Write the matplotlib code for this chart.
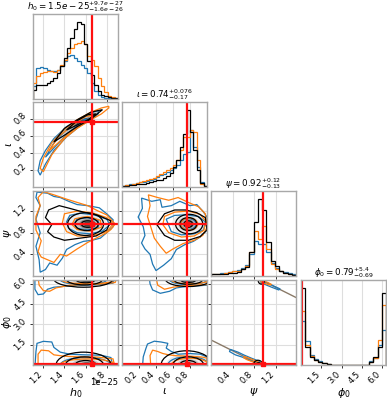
#!/usr/bin/env python3
import matplotlib

matplotlib.use("Agg")
import matplotlib.pyplot as plt
from matplotlib.patches import Ellipse, Polygon
import numpy as np

DPI = 100
FIG_W, FIG_H = 387, 400
BLUE = "#1f77b4"
ORANGE = "#ff7f0e"
BLACK = "#000000"
TRUTH_COLOR = "#ff1010"
GRID_COLOR = "#dedede"
SPINE_COLOR = "#a8a8a8"
FILL_SHADES = ["#ececec", "#c4c4c4", "#8a8a8a", "#454545"]

# axes layout in pixels
COL_LEFT = [33, 122, 211, 301]
ROW_TOP = [14, 102, 191, 280]
PANEL_W, PANEL_H = 85, 85

LABELS = [r"$h_0$", r"$\iota$", r"$\psi$", r"$\phi_0$"]
TITLES = [
    r"$h_0 = 1.5e-25^{+9.7e-27}_{-1.6e-26}$",
    r"$\iota = 0.74^{+0.076}_{-0.17}$",
    r"$\psi = 0.92^{+0.12}_{-0.13}$",
    r"$\phi_0 = 0.79^{+5.4}_{-0.69}$",
]
H0_OFFSET_TEXT = "1e\u221225"
UNITS = [1e-25, 1.0, 1.0, 1.0]
RANGES = [(1.102, 1.907), (0.0, 1.0), (0.0, 1.5708), (0.0, 6.2832)]
TICKS = [[1.2, 1.4, 1.6, 1.8], [0.2, 0.4, 0.6, 0.8], [0.4, 0.8, 1.2], [1.5, 3.0, 4.5, 6.0]]
TRUTHS = [1.663, 0.77, 0.955, 0.04]

# 1D marginal histograms (bin counts, arbitrary units)
H0_HIST_BLUE = [38, 93, 95, 93, 88, 83, 83, 88, 98, 113, 128, 133, 123, 113, 103, 93, 78, 48, 23, 11, 6, 3, 2, 1, 1]
H0_HIST_ORANGE = [48, 68, 78, 81, 85, 83, 81, 88, 103, 118, 138, 153, 163, 168, 173, 165, 128, 118, 98, 63, 38, 21, 10, 5, 3]
H0_HIST_BLACK = [28, 43, 43, 43, 48, 53, 63, 78, 98, 123, 153, 183, 208, 231, 223, 163, 113, 73, 43, 23, 13, 8, 5, 3, 2]

IOTA_HIST_BLUE = [3, 5, 8, 10, 12, 14, 16, 18, 22, 25, 30, 35, 40, 45, 52, 58, 65, 80, 100, 105, 170, 120, 60, 15, 3]
IOTA_HIST_ORANGE = [3, 5, 7, 10, 13, 16, 18, 20, 24, 28, 32, 38, 44, 50, 56, 65, 80, 110, 150, 150, 170, 165, 80, 10, 3]
IOTA_HIST_BLACK = [2, 3, 5, 7, 8, 10, 10, 12, 14, 17, 20, 22, 26, 32, 42, 60, 80, 120, 160, 232, 165, 110, 50, 12, 3]

PSI_HIST_BLUE = [6, 7, 8, 10, 12, 15, 18, 25, 32, 65, 105, 95, 95, 70, 40, 25, 15, 12, 8, 5]
PSI_HIST_ORANGE = [5, 6, 7, 9, 11, 14, 16, 22, 30, 70, 135, 110, 150, 80, 35, 22, 15, 10, 6, 4]
PSI_HIST_BLACK = [5, 5, 6, 7, 8, 10, 12, 20, 28, 70, 160, 230, 195, 100, 45, 30, 15, 10, 5, 3]

PHI0_HIST_BLUE = [132, 70, 30, 18, 12, 7, 3, 1, 0, 0, 0, 0, 0, 0, 0, 1, 12, 22, 60, 105]
PHI0_HIST_ORANGE = [162, 60, 28, 16, 10, 6, 3, 1, 0, 0, 0, 0, 0, 0, 0, 1, 10, 20, 75, 180]
PHI0_HIST_BLACK = [230, 55, 25, 15, 10, 5, 3, 1, 0, 0, 0, 0, 0, 0, 0, 1, 10, 25, 55, 215]

HISTS = {
    0: (H0_HIST_BLUE, H0_HIST_ORANGE, H0_HIST_BLACK),
    1: (IOTA_HIST_BLUE, IOTA_HIST_ORANGE, IOTA_HIST_BLACK),
    2: (PSI_HIST_BLUE, PSI_HIST_ORANGE, PSI_HIST_BLACK),
    3: (PHI0_HIST_BLUE, PHI0_HIST_ORANGE, PHI0_HIST_BLACK),
}

# 2D credible contours.
# bands: (x, y_low, y_high); lines: closed outlines; rings: (cx, cy, half_w, half_h)
H0_IOTA_BLUE = [
    ([1.15, 1.17, 1.22, 1.30, 1.42, 1.55, 1.65, 1.72],
     [0.19, 0.14, 0.27, 0.43, 0.59, 0.72, 0.79, 0.86],
     [0.19, 0.31, 0.43, 0.57, 0.71, 0.81, 0.87, 0.90]),
    ([1.22, 1.30, 1.42, 1.55, 1.63],
     [0.35, 0.46, 0.62, 0.75, 0.80],
     [0.35, 0.52, 0.68, 0.79, 0.80]),
]
H0_IOTA_ORANGE = [
    ([1.17, 1.20, 1.28, 1.40, 1.52, 1.65, 1.75, 1.82],
     [0.22, 0.18, 0.38, 0.57, 0.69, 0.79, 0.86, 0.93],
     [0.22, 0.34, 0.52, 0.68, 0.79, 0.88, 0.93, 0.95]),
    ([1.25, 1.35, 1.48, 1.60, 1.70],
     [0.42, 0.53, 0.67, 0.77, 0.85],
     [0.42, 0.60, 0.73, 0.83, 0.85]),
]
H0_IOTA_BLACK = [
    ([1.30, 1.40, 1.52, 1.65, 1.76],
     [0.53, 0.61, 0.71, 0.80, 0.91],
     [0.53, 0.69, 0.79, 0.88, 0.91]),
    ([1.42, 1.52, 1.62, 1.70],
     [0.67, 0.73, 0.79, 0.86],
     [0.67, 0.78, 0.85, 0.86]),
]
H0_IOTA_FILL = [
    ([1.34, 1.45, 1.58, 1.72], [0.58, 0.66, 0.75, 0.87], [0.58, 0.72, 0.83, 0.89], 1),
    ([1.48, 1.56, 1.64], [0.71, 0.76, 0.82], [0.71, 0.80, 0.82], 3),
]

H0_PSI_BLUE = [
    [(1.14, 1.55), (1.24, 1.53), (1.30, 1.47), (1.36, 1.45), (1.44, 1.38), (1.52, 1.32),
     (1.62, 1.30), (1.73, 1.26), (1.80, 1.15), (1.86, 1.04), (1.86, 0.91), (1.80, 0.80),
     (1.74, 0.70), (1.66, 0.66), (1.58, 0.64), (1.50, 0.58), (1.42, 0.49), (1.38, 0.33),
     (1.33, 0.20), (1.26, 0.24), (1.22, 0.12), (1.17, 0.07), (1.16, 0.30), (1.13, 0.55),
     (1.17, 0.80), (1.13, 1.05), (1.17, 1.30), (1.13, 1.45)],
    [(1.45, 1.12), (1.55, 1.16), (1.68, 1.13), (1.80, 1.05), (1.83, 0.95), (1.76, 0.83),
     (1.64, 0.78), (1.52, 0.80), (1.44, 0.88), (1.42, 1.00)],
    [(1.52, 1.05), (1.62, 1.08), (1.72, 1.02), (1.72, 0.90), (1.62, 0.85), (1.52, 0.88),
     (1.49, 0.96)],
]
H0_PSI_ORANGE = [
    [(1.20, 1.56), (1.30, 1.50), (1.42, 1.42), (1.52, 1.36), (1.62, 1.30), (1.72, 1.20),
     (1.80, 1.13), (1.88, 0.96), (1.84, 0.86), (1.80, 0.80), (1.70, 0.70), (1.62, 0.62),
     (1.52, 0.50), (1.42, 0.37), (1.36, 0.40), (1.30, 0.25), (1.24, 0.30), (1.18, 0.35),
     (1.15, 0.45), (1.18, 0.65), (1.13, 0.85), (1.13, 1.10), (1.17, 1.30), (1.15, 1.45)],
    [(1.40, 1.15), (1.52, 1.20), (1.66, 1.17), (1.80, 1.08), (1.86, 0.96), (1.80, 0.82),
     (1.66, 0.74), (1.52, 0.74), (1.42, 0.82), (1.38, 0.98)],
    [(1.50, 1.06), (1.62, 1.10), (1.74, 1.03), (1.75, 0.90), (1.64, 0.83), (1.52, 0.86),
     (1.47, 0.95)],
]
H0_PSI_BLACK_LINES = [
    [(1.25, 1.22), (1.35, 1.30), (1.45, 1.25), (1.58, 1.18), (1.72, 1.12), (1.84, 1.02),
     (1.80, 0.85), (1.70, 0.74), (1.55, 0.70), (1.40, 0.66), (1.30, 0.72), (1.24, 0.82),
     (1.28, 0.95), (1.22, 1.08)],
]
H0_PSI_BLACK_RINGS = [(1.60, 0.96, 0.17, 0.21), (1.61, 0.96, 0.11, 0.12), (1.62, 0.96, 0.06, 0.06)]
H0_PSI_FILL = [(1.60, 0.96, 0.20, 0.24, 0), (1.61, 0.96, 0.13, 0.15, 1),
               (1.62, 0.96, 0.08, 0.09, 2), (1.62, 0.96, 0.04, 0.045, 3)]

H0_PHI_BLUE = [
    [(1.12, 6.5), (1.12, 5.6), (1.15, 5.2), (1.20, 5.25), (1.24, 5.6), (1.30, 5.75),
     (1.45, 5.85), (1.60, 5.90), (1.75, 5.95), (1.86, 6.05), (1.88, 6.5)],
    [(1.12, -0.2), (1.13, 1.0), (1.14, 1.6), (1.20, 1.75), (1.28, 1.70), (1.30, 1.30),
     (1.36, 0.95), (1.45, 0.80), (1.60, 0.75), (1.75, 0.72), (1.84, 0.55), (1.86, -0.2)],
]
H0_PHI_BLUE_RINGS = [(1.58, 6.30, 0.22, 0.35), (1.60, 0.0, 0.24, 0.55)]
H0_PHI_ORANGE = [
    [(1.15, 6.5), (1.16, 5.9), (1.20, 5.5), (1.26, 5.45), (1.32, 5.7), (1.45, 5.9),
     (1.60, 5.95), (1.78, 6.0), (1.88, 6.1), (1.90, 6.5)],
    [(1.15, -0.2), (1.15, 0.8), (1.18, 1.1), (1.25, 1.05), (1.30, 0.75), (1.40, 0.65),
     (1.55, 0.60), (1.72, 0.58), (1.86, 0.45), (1.88, -0.2)],
]
H0_PHI_ORANGE_RINGS = [(1.62, 6.30, 0.25, 0.30), (1.62, 0.0, 0.26, 0.45)]
H0_PHI_BLACK_RINGS = [(1.58, 6.35, 0.28, 0.60), (1.59, 6.32, 0.17, 0.40), (1.60, 6.30, 0.09, 0.22),
                      (1.58, 0.0, 0.26, 0.95), (1.59, 0.0, 0.18, 0.60), (1.60, 0.0, 0.10, 0.33)]
H0_PHI_FILL = [(1.59, 6.32, 0.22, 0.50, 0), (1.60, 6.30, 0.13, 0.30, 1), (1.61, 6.28, 0.07, 0.15, 3),
               (1.59, 0.0, 0.22, 0.80, 0), (1.60, 0.0, 0.13, 0.45, 1), (1.61, 0.0, 0.07, 0.20, 3)]

IOTA_PSI_BLUE = [
    [(0.23, 1.44), (0.35, 1.38), (0.45, 1.41), (0.47, 1.27), (0.58, 1.30), (0.68, 1.38),
     (0.80, 1.30), (0.88, 1.32), (0.95, 1.20), (1.00, 1.09), (1.00, 0.85), (0.92, 0.72),
     (0.84, 0.64), (0.74, 0.58), (0.64, 0.49), (0.58, 0.32), (0.49, 0.20), (0.40, 0.10),
     (0.36, 0.22), (0.33, 0.40), (0.27, 0.50), (0.23, 0.61), (0.27, 0.75), (0.25, 0.91),
     (0.19, 1.09), (0.24, 1.25)],
    [(0.52, 1.05), (0.62, 1.12), (0.75, 1.13), (0.90, 1.10), (0.98, 1.00), (0.96, 0.85),
     (0.85, 0.78), (0.70, 0.76), (0.58, 0.82)],
]
IOTA_PSI_BLUE_RINGS = [(0.78, 0.96, 0.09, 0.10)]
IOTA_PSI_ORANGE = [
    [(0.31, 1.50), (0.42, 1.45), (0.55, 1.40), (0.66, 1.45), (0.78, 1.36), (0.90, 1.28),
     (0.98, 1.15), (1.00, 0.90), (0.95, 0.75), (0.85, 0.66), (0.72, 0.60), (0.60, 0.50),
     (0.52, 0.42), (0.45, 0.55), (0.38, 0.70), (0.34, 0.90), (0.30, 1.10), (0.33, 1.30)],
    [(0.50, 1.10), (0.62, 1.18), (0.78, 1.20), (0.92, 1.14), (0.99, 1.00), (0.96, 0.84),
     (0.85, 0.74), (0.70, 0.72), (0.55, 0.80), (0.48, 0.95)],
]
IOTA_PSI_ORANGE_RINGS = [(0.79, 0.96, 0.10, 0.11)]
IOTA_PSI_BLACK_LINES = [
    [(0.41, 0.95), (0.50, 1.15), (0.62, 1.22), (0.75, 1.22), (0.88, 1.17), (0.98, 1.08),
     (1.00, 0.85), (0.92, 0.73), (0.78, 0.66), (0.62, 0.66), (0.50, 0.75)],
]
IOTA_PSI_BLACK_RINGS = [(0.79, 0.96, 0.16, 0.18), (0.78, 0.96, 0.10, 0.12), (0.78, 0.96, 0.05, 0.06)]
IOTA_PSI_FILL = [(0.78, 0.96, 0.19, 0.22, 0), (0.78, 0.96, 0.12, 0.14, 1),
                 (0.78, 0.96, 0.07, 0.08, 2), (0.78, 0.96, 0.035, 0.04, 3)]

IOTA_PHI_BLUE = [
    [(0.32, 6.5), (0.33, 6.0), (0.36, 5.55), (0.45, 5.30), (0.56, 5.45), (0.64, 5.70),
     (0.75, 5.80), (0.88, 5.85), (1.00, 5.90), (1.00, 6.5)],
    [(0.24, -0.2), (0.25, 0.6), (0.28, 1.2), (0.30, 1.55), (0.38, 1.76), (0.46, 1.70),
     (0.54, 1.60), (0.52, 1.25), (0.58, 1.00), (0.66, 0.80), (0.80, 0.85), (0.92, 0.80),
     (1.00, 0.60), (1.00, -0.2)],
]
IOTA_PHI_BLUE_RINGS = [(0.78, 6.30, 0.22, 0.35), (0.78, 0.0, 0.24, 0.62)]
IOTA_PHI_ORANGE = [
    [(0.40, 6.5), (0.42, 5.9), (0.50, 5.6), (0.60, 5.75), (0.72, 5.85), (0.86, 5.90),
     (1.00, 5.95), (1.00, 6.5)],
    [(0.34, -0.2), (0.33, 0.7), (0.36, 1.10), (0.42, 1.00), (0.48, 0.85), (0.55, 0.75),
     (0.65, 0.68), (0.80, 0.65), (0.95, 0.58), (1.00, 0.50), (1.00, -0.2)],
]
IOTA_PHI_ORANGE_RINGS = [(0.80, 6.30, 0.22, 0.30), (0.80, 0.0, 0.22, 0.50)]
IOTA_PHI_BLACK_RINGS = [(0.78, 6.35, 0.27, 0.55), (0.78, 6.32, 0.17, 0.35), (0.78, 6.30, 0.09, 0.20),
                        (0.76, 0.0, 0.30, 1.05), (0.78, 0.0, 0.18, 0.60), (0.78, 0.0, 0.10, 0.33)]
IOTA_PHI_FILL = [(0.78, 6.32, 0.22, 0.45, 0), (0.78, 6.30, 0.13, 0.28, 1), (0.78, 6.28, 0.06, 0.14, 3),
                 (0.77, 0.0, 0.25, 0.85, 0), (0.78, 0.0, 0.13, 0.45, 1), (0.78, 0.0, 0.06, 0.20, 3)]

# psi / phi0 degeneracy ridge, two wrapped pieces
RIDGE_PSI_LOW = [0.0, 0.925]
RIDGE_PHI_LOW = [1.85, 0.0]
RIDGE_PSI_HIGH = [0.925, 1.5708]
RIDGE_PHI_HIGH = [6.2832, 4.99]
PSI_PHI_BLUE = [
    [(0.36, 1.15), (0.50, 0.95), (0.62, 0.72), (0.75, 0.50), (0.88, 0.30), (0.92, 0.10),
     (0.85, 0.12), (0.70, 0.38), (0.58, 0.58), (0.45, 0.75), (0.34, 1.00)],
    [(0.95, 6.20), (1.05, 6.05), (1.18, 5.80), (1.28, 5.62), (1.25, 5.55), (1.12, 5.75),
     (1.00, 5.95), (0.92, 6.10)],
]
PSI_PHI_ORANGE = [
    [(0.62, 0.62), (0.72, 0.48), (0.82, 0.32), (0.92, 0.12), (0.88, 0.05), (0.78, 0.22),
     (0.66, 0.40), (0.60, 0.55)],
    [(0.95, 6.25), (1.05, 6.10), (1.12, 5.95), (1.08, 5.92), (0.98, 6.05), (0.92, 6.15)],
]
PSI_PHI_BLACK_RINGS = [(0.87, 0.05, 0.08, 0.30), (0.88, 0.02, 0.04, 0.15), (0.93, 6.28, 0.06, 0.30)]
PSI_PHI_FILL = [(0.88, 0.02, 0.06, 0.22, 1), (0.89, 0.0, 0.03, 0.10, 3), (0.93, 6.28, 0.04, 0.18, 2)]

PANELS = {
    (1, 0): dict(blue_bands=H0_IOTA_BLUE, orange_bands=H0_IOTA_ORANGE,
                 black_bands=H0_IOTA_BLACK, fill_bands=H0_IOTA_FILL),
    (2, 0): dict(blue_lines=H0_PSI_BLUE, orange_lines=H0_PSI_ORANGE,
                 black_lines=H0_PSI_BLACK_LINES, black_rings=H0_PSI_BLACK_RINGS,
                 fill_rings=H0_PSI_FILL),
    (3, 0): dict(blue_lines=H0_PHI_BLUE, blue_rings=H0_PHI_BLUE_RINGS,
                 orange_lines=H0_PHI_ORANGE, orange_rings=H0_PHI_ORANGE_RINGS,
                 black_rings=H0_PHI_BLACK_RINGS, fill_rings=H0_PHI_FILL),
    (2, 1): dict(blue_lines=IOTA_PSI_BLUE, blue_rings=IOTA_PSI_BLUE_RINGS,
                 orange_lines=IOTA_PSI_ORANGE, orange_rings=IOTA_PSI_ORANGE_RINGS,
                 black_lines=IOTA_PSI_BLACK_LINES, black_rings=IOTA_PSI_BLACK_RINGS,
                 fill_rings=IOTA_PSI_FILL),
    (3, 1): dict(blue_lines=IOTA_PHI_BLUE, blue_rings=IOTA_PHI_BLUE_RINGS,
                 orange_lines=IOTA_PHI_ORANGE, orange_rings=IOTA_PHI_ORANGE_RINGS,
                 black_rings=IOTA_PHI_BLACK_RINGS, fill_rings=IOTA_PHI_FILL),
    (3, 2): dict(blue_lines=PSI_PHI_BLUE, orange_lines=PSI_PHI_ORANGE,
                 black_rings=PSI_PHI_BLACK_RINGS, fill_rings=PSI_PHI_FILL,
                 ridges=[(RIDGE_PSI_LOW, RIDGE_PHI_LOW), (RIDGE_PSI_HIGH, RIDGE_PHI_HIGH)]),
}


def _band_outline(band):
    x, lo, hi = (np.asarray(v, dtype=float) for v in band[:3])
    return np.column_stack([np.concatenate([x, x[::-1]]), np.concatenate([lo, hi[::-1]])])


def _add_outline(ax, pts, ux, uy, **kw):
    arr = np.asarray(pts, dtype=float) * [ux, uy]
    ax.add_patch(Polygon(arr, closed=True, **kw))


def _add_ring(ax, ring, ux, uy, **kw):
    cx, cy, hw, hh = ring[:4]
    ax.add_patch(Ellipse((cx * ux, cy * uy), 2 * hw * ux, 2 * hh * uy, **kw))


def _draw_panel(ax, spec, ux, uy):
    for ring in spec.get("fill_rings", []):
        _add_ring(ax, ring, ux, uy, facecolor=FILL_SHADES[ring[4]], edgecolor="none", zorder=1)
    for band in spec.get("fill_bands", []):
        _add_outline(ax, _band_outline(band), ux, uy, facecolor=FILL_SHADES[band[3]],
                     edgecolor="none", zorder=1)
    for xs, ys in spec.get("ridges", []):
        ax.plot(np.asarray(xs) * ux, np.asarray(ys) * uy, color="#8a7a68", lw=1.0, zorder=2)
    line_kw = dict(fill=False, linewidth=0.9, zorder=3)
    for color, key in ((BLUE, "blue"), (ORANGE, "orange"), (BLACK, "black")):
        for band in spec.get(key + "_bands", []):
            _add_outline(ax, _band_outline(band), ux, uy, edgecolor=color, **line_kw)
        for pts in spec.get(key + "_lines", []):
            _add_outline(ax, pts, ux, uy, edgecolor=color, **line_kw)
        for ring in spec.get(key + "_rings", []):
            _add_ring(ax, ring, ux, uy, edgecolor=color, **line_kw)


def _style_axis(ax):
    ax.set_axisbelow(True)
    for spine in ax.spines.values():
        spine.set_color(SPINE_COLOR)
        spine.set_linewidth(1.0)
        spine.set_zorder(6)
    ax.tick_params(direction="out", length=2.5, width=0.7, pad=1.2, colors="#333333",
                   labelsize=6, labelcolor="black", top=False, right=False)


def main():
    fig = plt.figure(figsize=(FIG_W / DPI, FIG_H / DPI), dpi=DPI)
    n = len(LABELS)
    for row in range(n):
        for col in range(row + 1):
            rect = [COL_LEFT[col] / FIG_W, 1 - (ROW_TOP[row] + PANEL_H) / FIG_H,
                    PANEL_W / FIG_W, PANEL_H / FIG_H]
            ax = fig.add_axes(rect)
            _style_axis(ax)
            ux = UNITS[col]
            lo, hi = RANGES[col]
            ax.set_xlim(lo * ux, hi * ux)
            ax.set_xticks(np.asarray(TICKS[col]) * ux)

            if row == col:
                blue, orange, black = HISTS[col]
                edges = np.linspace(lo, hi, len(blue) + 1) * ux
                for vals, color in ((blue, BLUE), (orange, ORANGE), (black, BLACK)):
                    ax.stairs(vals, edges, color=color, linewidth=0.9, zorder=3)
                top = max(max(blue), max(orange), max(black)) * 1.1
                ax.set_ylim(0, top)
                ax.set_yticks([])
                ax.grid(True, axis="x", color=GRID_COLOR, linewidth=0.8)
                ax.axvline(TRUTHS[col] * ux, color=TRUTH_COLOR, linewidth=1.6, zorder=4)
                ax.set_title(TITLES[col], fontsize=6.3, pad=1.5)
            else:
                uy = UNITS[row]
                ylo, yhi = RANGES[row]
                ax.set_ylim(ylo * uy, yhi * uy)
                ax.set_yticks(np.asarray(TICKS[row]) * uy)
                ax.grid(True, color=GRID_COLOR, linewidth=0.8)
                _draw_panel(ax, PANELS[(row, col)], ux, uy)
                tx, ty = TRUTHS[col] * ux, TRUTHS[row] * uy
                ax.axvline(tx, color=TRUTH_COLOR, linewidth=1.6, zorder=4)
                ax.axhline(ty, color=TRUTH_COLOR, linewidth=1.6, zorder=4)
                ax.plot([tx], [ty], marker="s", markersize=3.5, color=TRUTH_COLOR, zorder=7,
                        clip_on=False)
                if col == 0:
                    ax.set_ylabel(LABELS[row], fontsize=8)
                    ax.yaxis.set_label_coords(-0.22, 0.5)
                    for lab in ax.get_yticklabels():
                        lab.set_rotation(45)
                        lab.set_ha("right")
                        lab.set_va("center")
                else:
                    ax.set_yticklabels([])

            ax.xaxis.get_offset_text().set_visible(False)
            if row == n - 1:
                ax.set_xlabel(LABELS[col], fontsize=8)
                ax.xaxis.set_label_coords(0.5, -0.245)
                for lab in ax.get_xticklabels():
                    lab.set_rotation(45)
                    lab.set_ha("right")
                    lab.set_va("top")
                if col == 0:
                    ax.text(1.0, -0.205, H0_OFFSET_TEXT, transform=ax.transAxes,
                            ha="right", va="center", fontsize=6)
            else:
                ax.set_xticklabels([])

    fig.savefig("out.png", dpi=DPI)
    plt.close(fig)


if __name__ == "__main__":
    main()
